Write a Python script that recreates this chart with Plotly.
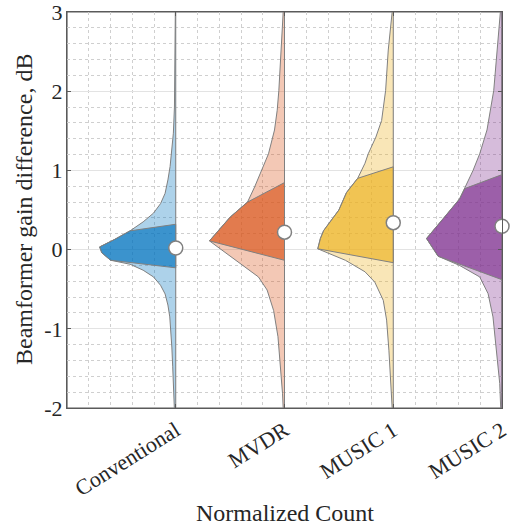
import plotly.graph_objects as go

# ---------------- data ----------------
categories = ["Conventional", "MVDR", "MUSIC 1", "MUSIC 2"]
positions = [1, 2, 3, 4]

# outline of each half-violin: y values (top -> bottom) and half-widths (normalized count)
conv_y = [3.0, 2.3, 1.8, 1.47, 1.26, 1.05, 0.88, 0.71, 0.58, 0.46, 0.35, 0.237, 0.13, 0.034, -0.04, -0.134, -0.185, -0.26, -0.345, -0.45, -0.56, -0.7, -0.85, -1.0, -1.23, -1.48, -1.9, -2.0]
conv_w = [0.004, 0.006, 0.012, 0.022, 0.037, 0.052, 0.072, 0.098, 0.14, 0.205, 0.30, 0.42, 0.56, 0.70, 0.68, 0.60, 0.42, 0.30, 0.205, 0.14, 0.098, 0.072, 0.055, 0.046, 0.036, 0.028, 0.015, 0.013]

mvdr_y = [3.0, 2.52, 2.01, 1.76, 1.51, 1.21, 1.0, 0.79, 0.60, 0.41, 0.11, -0.345, -0.51, -0.77, -1.10, -1.44, -1.82, -2.0]
mvdr_w = [0.012, 0.03, 0.052, 0.067, 0.092, 0.147, 0.21, 0.275, 0.34, 0.50, 0.69, 0.24, 0.16, 0.10, 0.06, 0.037, 0.018, 0.012]

mus1_y = [3.0, 2.52, 2.01, 1.63, 1.42, 1.21, 1.09, 0.90, 0.72, 0.50, 0.24, 0.14, 0.01, -0.135, -0.28, -0.41, -0.64, -0.89, -1.27, -1.69, -2.0]
mus1_w = [0.01, 0.046, 0.07, 0.107, 0.16, 0.23, 0.26, 0.327, 0.43, 0.50, 0.64, 0.67, 0.694, 0.44, 0.26, 0.17, 0.092, 0.061, 0.04, 0.021, 0.01]

mus2_y = [3.0, 2.52, 2.01, 1.51, 1.21, 1.0, 0.77, 0.64, 0.39, 0.14, -0.084, -0.2, -0.345, -0.556, -0.85, -1.31, -1.69, -2.0]
mus2_w = [0.015, 0.046, 0.076, 0.138, 0.205, 0.266, 0.343, 0.39, 0.54, 0.694, 0.587, 0.39, 0.205, 0.128, 0.083, 0.046, 0.021, 0.012]

# inner (dark) band: quartiles on the baseline and the outline range it follows
q3 = [0.32, 0.846, 1.045, 0.947]
q1 = [-0.23, -0.135, -0.165, -0.38]
band_top = [0.237, 0.60, 0.90, 0.77]
band_bottom = [-0.134, 0.11, 0.01, -0.084]

medians = [0.02, 0.22, 0.34, 0.295]

y_ticks = [-2, -1, 0, 1, 2, 3]
y_ticktext = ["-2", "-1", "0", "1", "2", "3"]

# ---------------- style ----------------
base_rgb = [(0, 114, 189), (217, 83, 25), (237, 177, 32), (126, 47, 142)]
outline = "rgb(128,128,128)"
frame_col = "#5a5a5a"
font_family = "Liberation Serif"
text_col = "#262626"

outlines_y = [conv_y, mvdr_y, mus1_y, mus2_y]
outlines_w = [conv_w, mvdr_w, mus1_w, mus2_w]

fig = go.Figure()

for i, p in enumerate(positions):
    r, g, b = base_rgb[i]
    ys = outlines_y[i]
    ws = outlines_w[i]
    # outer light polygon
    ox = [p - w for w in ws] + [p, p]
    oy = list(ys) + [ys[-1], ys[0]]
    fig.add_trace(go.Scatter(
        x=ox, y=oy, mode="lines", fill="toself",
        fillcolor=f"rgba({r},{g},{b},0.32)",
        line=dict(color=outline, width=1), hoverinfo="skip", showlegend=False))
    # inner dark band
    ix = [p]
    iy = [q3[i]]
    for yy, ww in zip(ys, ws):
        if band_bottom[i] - 1e-9 <= yy <= band_top[i] + 1e-9:
            ix.append(p - ww)
            iy.append(yy)
    ix += [p, p]
    iy += [q1[i], q3[i]]
    fig.add_trace(go.Scatter(
        x=ix, y=iy, mode="lines", fill="toself",
        fillcolor=f"rgba({r},{g},{b},0.66)",
        line=dict(color=outline, width=1), hoverinfo="skip", showlegend=False))

fig.add_trace(go.Scatter(
    x=positions, y=medians, mode="markers", cliponaxis=False,
    marker=dict(size=14, color="white", line=dict(color=outline, width=1.5)),
    hoverinfo="skip", showlegend=False))

axis_common = dict(
    showline=True, mirror="ticks", linecolor=frame_col, linewidth=1.2,
    ticks="inside", ticklen=4, tickcolor=frame_col, automargin=False,
    ticklabeloverflow="allow",
    showgrid=True, gridcolor="#e3e3e3", gridwidth=1, zeroline=False,
    tickfont=dict(family=font_family, size=22, color=text_col),
)

fig.update_xaxes(
    **axis_common,
    range=[0, 4], tickmode="array", tickvals=positions, ticktext=categories,
    tickangle=-32,
    minor=dict(tickmode="linear", tick0=0, dtick=0.2, showgrid=True,
               gridcolor="#cfcfcf", griddash="dot", gridwidth=1, ticks=""),
)
fig.update_yaxes(
    **axis_common,
    range=[-2, 3], tickmode="array", tickvals=y_ticks, ticktext=y_ticktext,
    ticklabelstandoff=-1,
    minor=dict(tickmode="linear", tick0=0, dtick=0.2, showgrid=True,
               gridcolor="#cfcfcf", griddash="dot", gridwidth=1, ticks=""),
)

fig.update_layout(
    width=514, height=525,
    margin=dict(l=67, r=12, t=12, b=117),
    paper_bgcolor="white", plot_bgcolor="white",
    font=dict(family=font_family, color=text_col),
    shapes=[dict(type="rect", xref="paper", yref="paper", x0=0, y0=0, x1=1, y1=1,
                 line=dict(color=frame_col, width=1.2), layer="between")],
    annotations=[
        dict(text="Normalized Count", xref="paper", yref="paper", x=0.5, y=0,
             xanchor="center", yanchor="middle", yshift=-105, showarrow=False,
             font=dict(family=font_family, size=24, color=text_col)),
        dict(text="Beamformer gain difference, dB", xref="paper", yref="paper",
             x=0, y=0.5, xanchor="center", yanchor="middle", xshift=-43,
             textangle=-90, showarrow=False,
             font=dict(family=font_family, size=24, color=text_col)),
    ],
)

fig.write_html("out.html")
